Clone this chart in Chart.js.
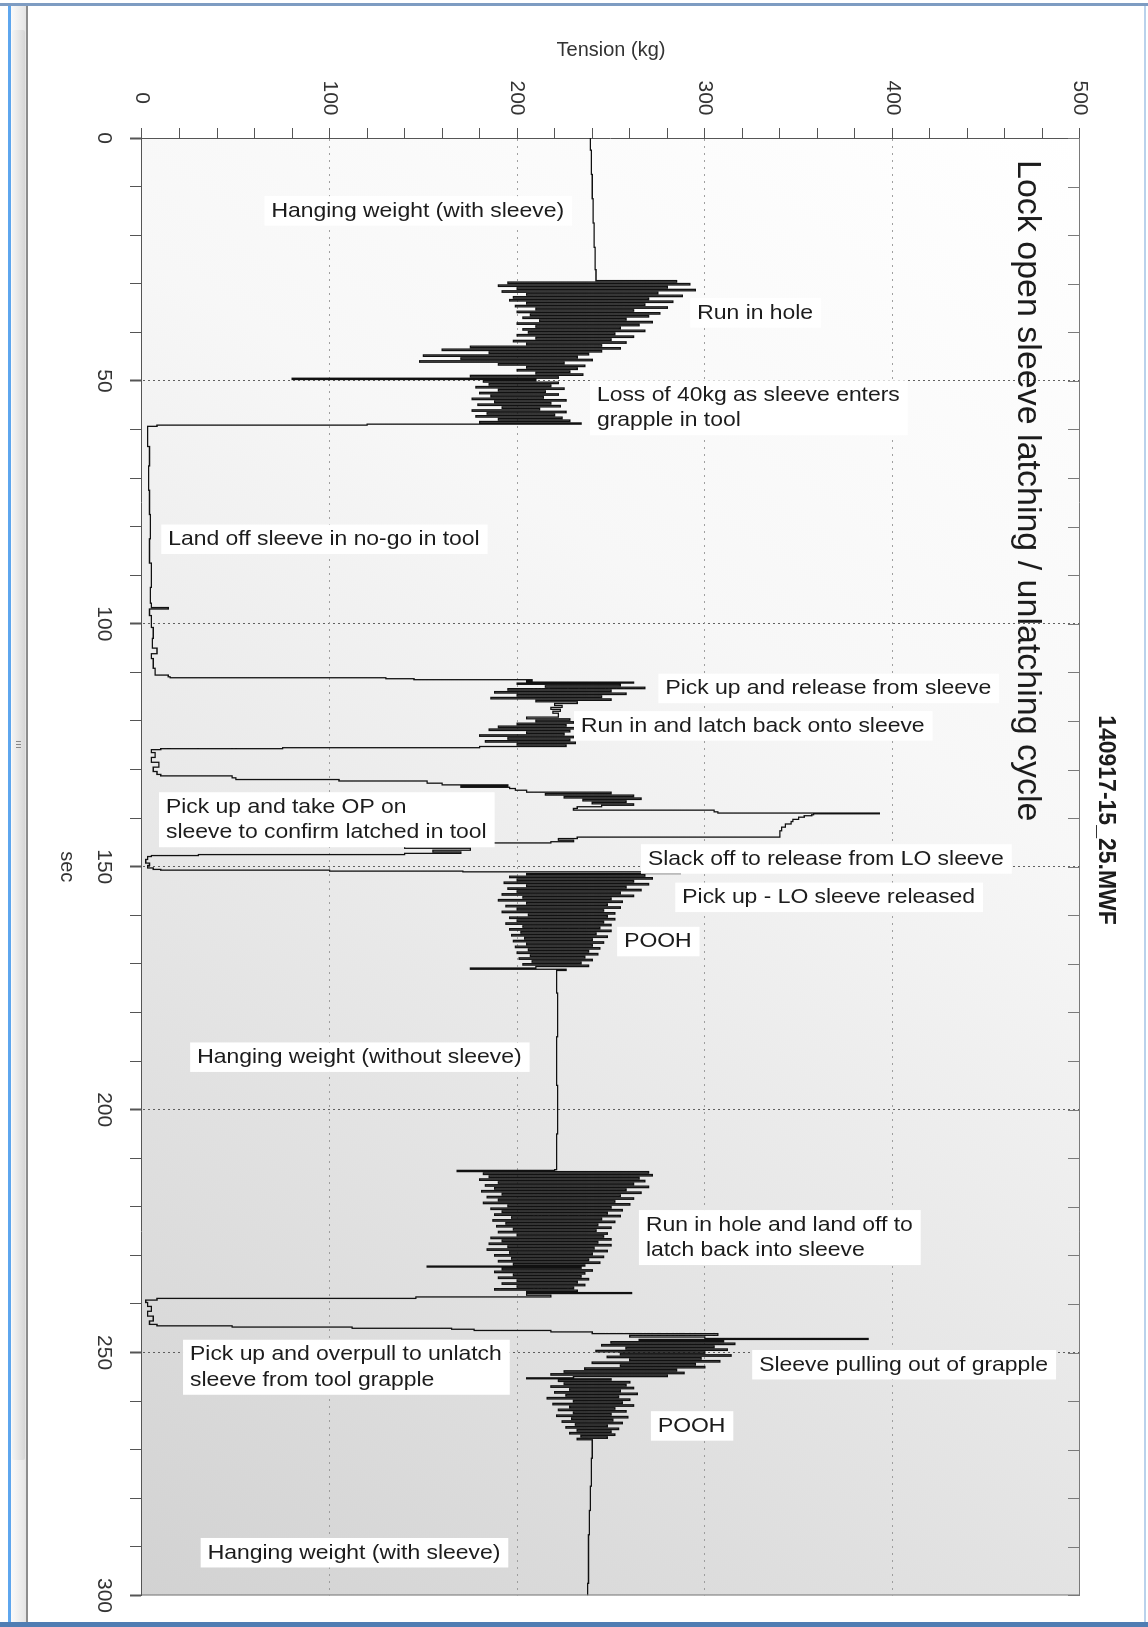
<!DOCTYPE html>
<html>
<head>
<meta charset="utf-8">
<script src="https://cdn.jsdelivr.net/npm/chart.js@4.4.0/dist/chart.umd.min.js"></script>
<style>
  html, body { margin: 0; padding: 0; width: 1148px; height: 1627px; overflow: hidden; background: #fff; }
  .edge { position: absolute; }
  #chart { position: absolute; left: 0; top: 0; transform-origin: 0 0; transform: translate(1148px, 0) rotate(90deg); }
</style>
</head>
<body>
<div class="edge" style="left:0;top:3px;width:1148px;height:3px;background:#7e9cc2;"></div>
<div class="edge" style="left:8px;top:6px;width:3px;height:1616px;background:#5ea6ee;"></div>
<div class="edge" style="left:11px;top:6px;width:15px;height:1616px;background:linear-gradient(90deg,#fafafa,#e4e4e4);"></div>
<div class="edge" style="left:12px;top:30px;width:13px;height:1430px;background:linear-gradient(90deg,#f4f4f4,#d6d6d6);border-radius:2px;"></div>
<div class="edge" style="left:16px;top:741px;width:5px;height:1px;background:#888;"></div>
<div class="edge" style="left:16px;top:744px;width:5px;height:1px;background:#888;"></div>
<div class="edge" style="left:16px;top:747px;width:5px;height:1px;background:#888;"></div>
<div class="edge" style="left:26px;top:6px;width:2px;height:1616px;background:#8c8c8c;"></div>
<div class="edge" style="left:1144px;top:6px;width:2px;height:1616px;background:#b9d2ec;"></div>
<div class="edge" style="left:0;top:1622px;width:1148px;height:5px;background:#4f7db3;"></div>
<canvas id="chart" width="1627" height="1148"></canvas>
<script>
// tension trace, [sec, kg] pairs, one list per phase
var hangWithSleeve = [[0,239],[5,239.5],[10,240],[15,240.5],[20,241],[25,241.5],[29.2,242]];
var runInHole = [[29.5,285],[29.8,195],[30.1,292],[30.4,190],[30.7,280],[31.0,200],[31.3,295],[31.6,192],[31.9,275],[32.2,205],
  [32.5,288],[32.8,198],[33.1,270],[33.4,196],[33.7,283],[34.0,205],[34.3,268],[34.6,199],[34.9,280],[35.2,210],[35.5,262],
  [35.8,200],[36.1,276],[36.4,207],[36.7,270],[37.0,203],[37.3,258],[37.6,212],[37.9,272],[38.2,200],[38.5,265],[38.8,210],
  [39.1,255],[39.4,203],[39.7,268],[40.0,206],[40.3,252],[40.6,200],[40.9,262],[41.2,210],[41.5,250],[41.8,198],[42.1,258],
  [42.4,205],[42.7,245],[43.0,175],[43.3,255],[43.6,160],[43.9,245],[44.2,185],[44.5,238],[44.8,150],[45.1,232],[45.4,170],
  [45.7,240],[46.0,148],[46.3,225],[46.6,190],[46.9,236],[47.2,205],[47.5,232],[47.8,200],[48.1,228],[48.4,210],[48.7,235],
  [49.0,175],[49.3,222],[49.6,80],[49.8,210]];
var sleeveEnters = [[50.1,182],[50.4,222],[50.7,185],[51.0,218],[51.3,178],[51.6,225],[51.9,190],[52.2,215],[52.5,180],[52.8,222],
  [53.1,186],[53.4,214],[53.7,176],[54.0,226],[54.3,188],[54.6,218],[54.9,179],[55.2,223],[55.5,192],[55.8,212],[56.1,176],
  [56.4,226],[56.7,184],[57.0,220],[57.3,178],[57.6,224],[57.9,190],[58.2,228],[58.5,180],[58.8,234],[59.0,120],[59.2,8],[59.5,3]];
var landOff = [[62,3],[65,4],[70,3.5],[75,4],[80,4.5],[85,4],[90,5],[95,4.5],[96.5,5],[96.8,14],[97.1,4],[99.5,5],[102,6],
  [104,5.5],[106,8],[106.3,5],[108,6],[110.3,7],[110.8,14]];
var pickUpRelease = [[111.0,15],[111.2,130],[111.4,145],[111.6,208],[111.9,205],[112.1,262],[112.3,200],[112.6,255],[112.9,215],
  [113.2,268],[113.5,195],[113.8,250],[114.1,188],[114.4,258],[114.7,200],[115.0,245],[115.3,186],[115.6,250],[115.9,210],
  [116.2,232],[116.6,220],[117.0,224],[117.4,218],[117.8,223],[118.2,219],[118.6,222]];
var latchBack = [[119.0,222],[119.4,205],[119.7,228],[120.0,210],[120.3,230],[120.6,200],[120.9,226],[121.2,190],[121.5,232],
  [121.8,185],[122.1,228],[122.4,205],[122.7,225],[123.0,180],[123.3,230],[123.6,195],[123.9,228],[124.2,183],[124.5,231],
  [124.8,200],[125.1,226],[125.4,180],[125.6,75],[125.8,10],[126.0,5],[127,7],[128,5],[129,9],[130,6],[130.8,8],[131.2,10]];
var takeOverpull = [[131.4,48],[132.0,50],[132.1,105],[132.6,152],[133.0,160],[133.3,195],[133.5,170],[133.8,196],[134.0,199],
  [134.5,205],[134.8,250],[135.1,215],[135.4,262],[135.7,225],[136.0,266],[136.3,235],[136.6,258],[136.9,240],[137.2,262],
  [137.5,245],[137.8,232],[138.2,230],[138.5,305],[138.9,307],[139.0,393],[139.2,358],[139.4,357],[139.6,353],[140.0,350],
  [140.5,347],[140.9,346],[141.5,343],[142.2,341],[143,340],[143.8,340]];
var slackOff = [[144.0,232],[144.4,222],[144.7,230],[145.0,218],[145.2,136],[145.6,150],[146.0,140],[146.4,175],[146.8,155],
  [147.1,170],[147.4,140],[147.6,30],[147.8,5],[148,3],[149,2],[149.5,4],[150,3],[150.5,6]];
var poohOne = [[150.6,10],[150.8,100],[151.0,171],[151.1,268],[151.3,287],[151.5,205],[151.8,268],[152.1,196],[152.4,272],
  [152.7,200],[153.0,262],[153.3,193],[153.6,270],[153.9,205],[154.2,258],[154.5,195],[154.8,266],[155.1,200],[155.4,255],
  [155.7,192],[156.0,262],[156.3,203],[156.6,250],[156.9,190],[157.2,256],[157.5,205],[157.8,248],[158.1,194],[158.4,255],
  [158.7,200],[159.0,246],[159.3,192],[159.6,252],[159.9,206],[160.2,248],[160.5,196],[160.8,252],[161.1,200],[161.4,246],
  [161.7,194],[162.0,250],[162.3,203],[162.6,244],[162.9,196],[163.2,250],[163.5,202],[163.8,242],[164.1,197],[164.4,248],
  [164.7,204],[165.0,240],[165.3,198],[165.6,246],[165.9,205],[166.2,240],[166.5,199],[166.8,244],[167.1,206],[167.4,238],
  [167.7,200],[168.0,243],[168.3,207],[168.6,236],[168.9,201],[169.2,240],[169.5,208],[169.8,234],[170.1,203],[170.4,238],
  [170.7,210],[171.0,175],[171.2,226],[171.5,221]];
var hangNoSleeve = [[172,221],[180,221.5],[190,221],[200,221.5],[210,221],[212.3,221]];
var runInHoleTwo = [[212.4,220],[212.6,168],[212.9,270],[213.2,182],[213.5,272],[213.8,185],[214.1,265],[214.4,180],[214.7,268],
  [215.0,190],[215.3,262],[215.6,183],[215.9,270],[216.2,188],[216.5,258],[216.8,181],[217.1,266],[217.4,192],[217.7,255],
  [218.0,184],[218.3,262],[218.6,190],[218.9,252],[219.2,182],[219.5,260],[219.8,195],[220.1,250],[220.4,186],[220.7,256],
  [221.0,192],[221.3,248],[221.6,188],[221.9,255],[222.2,197],[222.5,245],[222.8,187],[223.1,252],[223.4,194],[223.7,243],
  [224.0,189],[224.3,250],[224.6,198],[224.9,242],[225.2,190],[225.5,248],[225.8,200],[226.1,246],[226.4,186],[226.7,250],
  [227.0,192],[227.3,243],[227.6,185],[227.9,250],[228.2,195],[228.5,241],[228.8,184],[229.1,248],[229.4,196],[229.7,240],
  [230.0,188],[230.3,246],[230.6,197],[230.9,238],[231.2,190],[231.5,244],[231.8,198],[232.1,236],[232.3,152],[232.5,234],
  [232.8,192],[233.1,240],[233.4,188],[233.7,236],[234.0,198],[234.3,234],[234.6,190],[234.9,238],[235.2,200],[235.5,232],
  [235.8,192],[236.1,236],[236.4,200],[236.7,230],[237.0,188],[237.3,232],[237.6,205],[237.7,261],[238.0,205],[238.4,218],
  [238.7,146],[239.0,8],[239.4,2],[240,3],[241,5],[242,3],[243,6],[244,4],[244.4,8]];
var overpull = [[244.6,48],[244.9,112],[245.1,165],[245.3,177],[245.6,218],[245.9,240],[246.3,307],[246.6,260],[247.0,300],
  [247.2,387],[247.4,265],[247.6,310],[247.9,250],[248.2,316],[248.5,245],[248.8,305],[249.1,258],[249.4,312],[249.7,242],
  [250.0,300],[250.3,255],[250.6,314],[250.9,248],[251.2,298],[251.5,260],[251.8,308],[252.1,240],[252.4,295],[252.7,255],
  [253.0,300],[253.3,236],[253.6,285],[253.9,225],[254.2,289],[254.5,218],[254.8,280],[255.1,230],[255.3,205],[255.5,250]];
var poohTwo = [[255.8,222],[256.1,260],[256.4,225],[256.7,258],[257.0,218],[257.3,262],[257.6,228],[257.9,255],[258.2,220],
  [258.5,264],[258.8,226],[259.1,254],[259.4,216],[259.7,260],[260.0,230],[260.3,256],[260.6,219],[260.9,262],[261.2,228],
  [261.5,252],[261.8,222],[262.1,258],[262.4,230],[262.7,250],[263.0,221],[263.3,259],[263.6,229],[263.9,251],[264.2,224],
  [264.5,256],[264.8,231],[265.1,248],[265.4,226],[265.7,254],[266.0,232],[266.3,250],[266.6,228],[266.9,252],[267.2,234],
  [267.5,248],[267.8,232],[268.1,240]];
var hangEnd = [[268.5,240],[275,239.5],[280,239],[285,238.5],[290,238],[295,238],[300,237.5]];

var chartTitle = 'Lock open sleeve latching / unlatching cycle';
var fileName = '140917-15_25.MWF';

// text boxes placed on the plot at (sec, kg) = left edge / middle of first line
var notes = [
  { lines: ['Hanging weight (with sleeve)'], sec: 15.0, kg: 69 },
  { lines: ['Run in hole'], sec: 36.0, kg: 296 },
  { lines: ['Loss of 40kg as sleeve enters', 'grapple in tool'], sec: 52.9, kg: 242.5 },
  { lines: ['Land off sleeve in no-go in tool'], sec: 82.6, kg: 14 },
  { lines: ['Pick up and release from sleeve'], sec: 113.3, kg: 279 },
  { lines: ['Run in and latch back onto sleeve'], sec: 121.0, kg: 234 },
  { lines: ['Pick up and take OP on', 'sleeve to confirm latched in tool'], sec: 137.7, kg: 12.8 },
  { lines: ['Slack off to release from LO sleeve'], sec: 148.4, kg: 269.7 },
  { lines: ['Pick up - LO sleeve released'], sec: 156.3, kg: 288 },
  { lines: ['POOH'], sec: 165.4, kg: 257 },
  { lines: ['Hanging weight (without sleeve)'], sec: 189.2, kg: 29.4 },
  { lines: ['Run in hole and land off to', 'latch back into sleeve'], sec: 223.7, kg: 268.6 },
  { lines: ['Pick up and overpull to unlatch', 'sleeve from tool grapple'], sec: 250.4, kg: 25.6 },
  { lines: ['Sleeve pulling out of grapple'], sec: 252.5, kg: 329 },
  { lines: ['POOH'], sec: 265.1, kg: 275 },
  { lines: ['Hanging weight (with sleeve)'], sec: 291.2, kg: 35 }
];

var trace = [].concat(hangWithSleeve, runInHole, sleeveEnters, landOff, pickUpRelease, latchBack, takeOverpull,
  slackOff, poohOne, hangNoSleeve, runInHoleTwo, overpull, poohTwo, hangEnd).map(function(p) {
  return { x: p[0], y: p[1] };
});

var FONT = '"Liberation Sans", Arial, sans-serif';
Chart.defaults.font.family = FONT;
Chart.defaults.color = '#262626';

// plot background: white top-right fading to grey bottom-left (after rotation)
var plotBackground = {
  id: 'plotBackground',
  beforeDraw: function(chart) {
    var a = chart.chartArea, ctx = chart.ctx;
    var g = ctx.createLinearGradient(a.left, a.top, a.right, a.bottom);
    g.addColorStop(0, '#ffffff');
    g.addColorStop(0.35, '#f7f7f7');
    g.addColorStop(1, '#d2d2d2');
    ctx.save();
    ctx.fillStyle = g;
    ctx.fillRect(a.left, a.top, a.right - a.left, a.bottom - a.top);
    ctx.restore();
  }
};

var decorations = {
  id: 'decorations',
  afterDraw: function(chart) {
    var a = chart.chartArea, ctx = chart.ctx;
    var xs = chart.scales.x, ys = chart.scales.y;
    ctx.save();
    // remaining frame sides + inner ticks
    ctx.strokeStyle = '#7a7a7a';
    ctx.lineWidth = 1;
    ctx.beginPath();
    ctx.moveTo(a.left, a.top + 0.5); ctx.lineTo(a.right, a.top + 0.5);
    ctx.moveTo(a.right - 0.5, a.top); ctx.lineTo(a.right - 0.5, a.bottom);
    xs.ticks.forEach(function(t) {
      var px = Math.round(xs.getPixelForValue(t.value)) + 0.5;
      ctx.moveTo(px, a.top); ctx.lineTo(px, a.top + 12);
    });
    ctx.stroke();

    ctx.fillStyle = '#1c1c1c';
    ctx.textBaseline = 'middle';
    ctx.textAlign = 'left';
    ctx.font = '34px ' + FONT;
    ctx.fillText(chartTitle, a.left + 22, a.top + 53);

    ctx.textAlign = 'center';
    ctx.font = 'bold 23px ' + FONT;
    ctx.fillText(fileName, 820, 43);

    // annotations read horizontally once the canvas is turned
    ctx.textAlign = 'left';
    ctx.font = '21px ' + FONT;
    var lh = 25.5, stretch = 1.09;
    notes.forEach(function(n) {
      var px = xs.getPixelForValue(n.sec), py = ys.getPixelForValue(n.kg);
      ctx.save();
      ctx.translate(px, py);
      ctx.rotate(-Math.PI / 2);
      var w = stretch * Math.max.apply(null, n.lines.map(function(l) { return ctx.measureText(l).width; }));
      ctx.fillStyle = '#ffffff';
      ctx.fillRect(-7, -lh / 2 - 2, w + 15, lh * n.lines.length + 4);
      ctx.scale(stretch, 1);
      ctx.fillStyle = '#1c1c1c';
      n.lines.forEach(function(l, i) { ctx.fillText(l, 0, i * lh); });
      ctx.restore();
    });
    ctx.restore();
  }
};

new Chart(document.getElementById('chart'), {
  type: 'line',
  data: {
    datasets: [{
      data: trace,
      borderColor: '#111111',
      borderWidth: 1.3,
      pointRadius: 0,
      fill: false,
      stepped: 'middle'
    }]
  },
  options: {
    responsive: false,
    animation: false,
    devicePixelRatio: 1,
    layout: { padding: { left: 0, right: 30, top: 68, bottom: 28 } },
    plugins: {
      legend: { display: false },
      tooltip: { enabled: false }
    },
    scales: {
      x: {
        type: 'linear',
        min: 0,
        max: 300,
        position: 'bottom',
        ticks: {
          stepSize: 10,
          autoSkip: false,
          maxRotation: 0,
          padding: 14,
          font: { size: 21 },
          color: '#333',
          callback: function(v) { return v % 50 === 0 ? v : ''; }
        },
        grid: {
          tickLength: 12,
          tickColor: '#555',
          tickWidth: function(c) { return c.tick && c.tick.value % 50 === 0 ? 2 : 1; },
          color: function(c) {
            var v = c.tick ? c.tick.value : 0;
            return (v % 50 === 0 && v > 0 && v < 300) ? 'rgba(70,70,70,0.85)' : 'transparent';
          }
        },
        border: { color: '#555', width: 1, dash: [2, 3] },
        title: { display: true, text: 'sec', font: { size: 20 }, color: '#333', padding: { top: 0, bottom: 27 } },
        afterFit: function(s) { s.height = 1148 - 1006 - 28; }
      },
      y: {
        min: 0,
        max: 500,
        ticks: {
          stepSize: 20,
          crossAlign: 'center',
          padding: 12.5,
          font: { size: 21 },
          color: '#333',
          callback: function(v) { return v % 100 === 0 ? v : ''; }
        },
        grid: {
          tickLength: 10,
          tickColor: '#555',
          color: function(c) {
            var v = c.tick ? c.tick.value : 0;
            return (v % 100 === 0 && v > 0 && v < 500) ? 'rgba(150,150,150,0.9)' : 'transparent';
          }
        },
        border: { color: '#555', width: 1, dash: [2, 5] },
        title: { display: true, text: 'Tension (kg)', font: { size: 20 }, color: '#333', padding: { top: 38, bottom: 0 } },
        afterFit: function(s) { s.width = 138; }
      }
    }
  },
  plugins: [plotBackground, decorations]
});
</script>
</body>
</html>
